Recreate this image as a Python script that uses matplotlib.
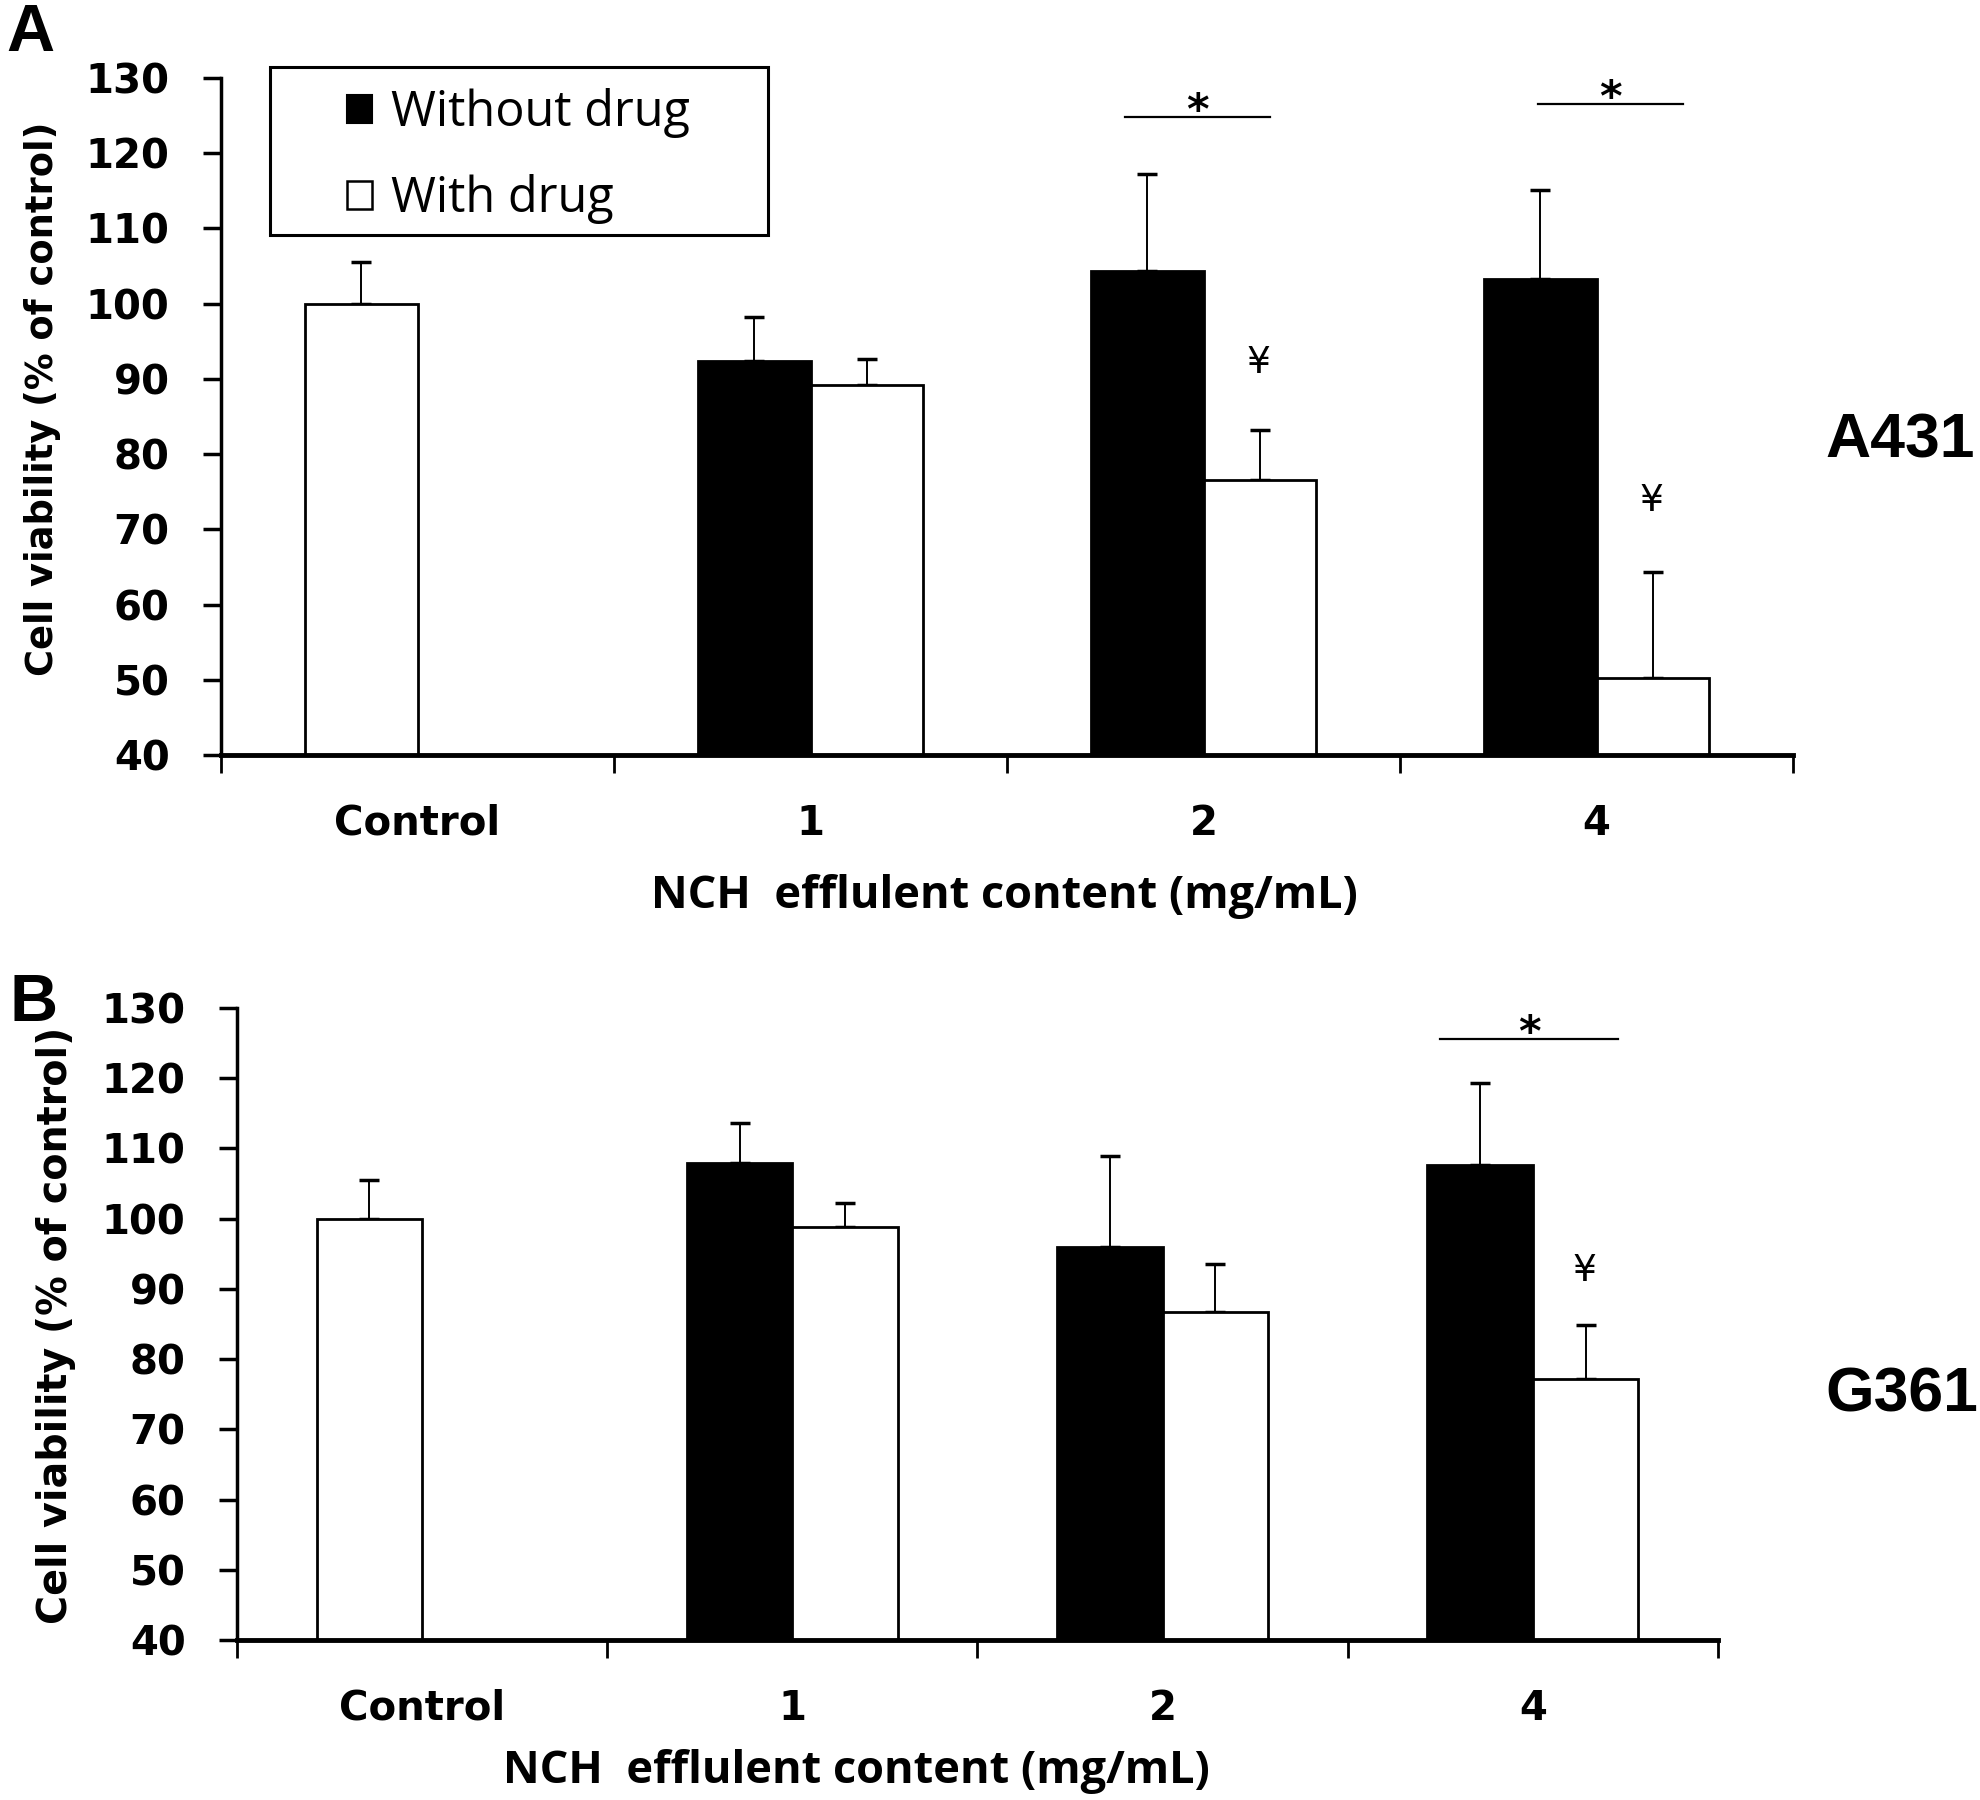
import matplotlib
matplotlib.use("Agg")
import matplotlib.pyplot as plt
import numpy as np
from matplotlib.patches import Patch, Rectangle

# Datos
categories = ["Control", "1", "2", "4"]

a431_control = 100.0
a431_control_err = 5.5
a431_without = [92.4, 104.4, 103.3]
a431_without_err = [5.8, 12.9, 11.8]
a431_with = [89.2, 76.5, 50.2]
a431_with_err = [3.5, 6.7, 14.1]

g361_control = 100.0
g361_control_err = 5.5
g361_without = [107.9, 96.0, 107.6]
g361_without_err = [5.7, 12.9, 11.7]
g361_with = [98.8, 86.7, 77.1]
g361_with_err = [3.4, 6.8, 7.7]

# Significancia: (x inicio, x fin, y línea)
a431_stars = [(1.80, 2.17, 124.8), (2.85, 3.22, 126.5)]
a431_yen = [(2.14, 92.1), (3.14, 73.8)]
g361_stars = [(2.75, 3.23, 125.6)]
g361_yen = [(3.14, 92.5)]

width = 0.285
W, H = 1980, 1800

fig = plt.figure(figsize=(19.8, 18), dpi=100)
ax1 = fig.add_axes([221 / W, 1 - 755 / H, (1793 - 221) / W, (755 - 78) / H])
ax2 = fig.add_axes([237 / W, 1 - 1640 / H, (1718 - 237) / W, (1640 - 1008) / H])


def draw_panel(ax, control, control_err, without, without_err, with_, with_err,
               stars, yens):
    x = np.arange(len(categories))
    xs = x[1:]
    bar_kw = dict(edgecolor="black", linewidth=2, zorder=3)
    err_kw = dict(fmt="none", ecolor="black", elinewidth=1.4, capsize=7,
                  capthick=2.5, zorder=2)

    ax.bar(x[0] - width / 2, control, width, color="white", **bar_kw)
    ax.bar(xs - width / 2, without, width, color="black", **bar_kw)
    ax.bar(xs + width / 2, with_, width, color="white", **bar_kw)

    ax.errorbar([x[0] - width / 2], [control], yerr=[[0], [control_err]], **err_kw)
    ax.errorbar(xs - width / 2, without, yerr=[np.zeros(3), without_err], **err_kw)
    ax.errorbar(xs + width / 2, with_, yerr=[np.zeros(3), with_err], **err_kw)

    for x0, x1, y in stars:
        ax.plot([x0, x1], [y, y], color="black", lw=1.6, clip_on=False)
        ax.annotate("*", xy=((x0 + x1) / 2, y), xytext=(0, -5),
                    textcoords="offset points", ha="center", va="baseline",
                    fontsize=31, fontweight="bold", annotation_clip=False)
    for xx, yy in yens:
        ax.text(xx, yy, "¥", ha="center", va="center", fontsize=27)

    ax.set_ylim(40, 130)
    ax.set_yticks(np.arange(40, 131, 10))
    ax.set_xlim(-0.5, 3.5)
    ax.set_xticks(x)
    ax.set_xticklabels(categories)
    ax.set_xticks(np.arange(-0.5, 3.6, 1), minor=True)

    ax.spines["top"].set_visible(False)
    ax.spines["right"].set_visible(False)
    ax.spines["left"].set_linewidth(2.5)
    ax.spines["bottom"].set_linewidth(3.5)
    ax.spines["bottom"].set_zorder(4)

    ax.tick_params(axis="y", direction="out", length=13, width=2.5, pad=24,
                   labelsize=29)
    ax.tick_params(axis="x", which="major", length=0, pad=35, labelsize=29)
    ax.tick_params(axis="x", which="minor", direction="out", length=13, width=2)
    for lab in ax.get_xticklabels() + ax.get_yticklabels():
        lab.set_fontweight("bold")


draw_panel(ax1, a431_control, a431_control_err, a431_without, a431_without_err,
           a431_with, a431_with_err, a431_stars, a431_yen)
draw_panel(ax2, g361_control, g361_control_err, g361_without, g361_without_err,
           g361_with, g361_with_err, g361_stars, g361_yen)

# Leyenda
handles = [Patch(facecolor="black", edgecolor="black", linewidth=1.5),
           Patch(facecolor="white", edgecolor="black", linewidth=1.8)]
ax1.legend(handles, ["Without drug", "With drug"], loc="upper left",
           bbox_to_anchor=(347 / W, 1 - 88 / H), bbox_transform=fig.transFigure,
           frameon=False, borderpad=0, borderaxespad=0,
           prop={"family": "Open Sans", "size": 35},
           handlelength=0.52, handleheight=0.52, handletextpad=0.38,
           labelspacing=0.74)
fig.add_artist(Rectangle((270 / W, 1 - 235 / H), 498 / W, 168 / H,
                         transform=fig.transFigure, fill=False, lw=2.2,
                         edgecolor="black"))

# Etiquetas de ejes
ylab = "Cell viability (% of control)"
fig.text(43 / W, 1 - 399 / H, ylab, rotation=90, ha="center", va="center",
         fontsize=26.5, fontweight="bold")
fig.text(56 / W, 1 - 1325 / H, ylab, rotation=90, ha="center", va="center",
         fontsize=28.5, fontweight="bold")

xlab = "NCH  efflulent content (mg/mL)"
xfont = dict(family=["Open Sans", "DejaVu Sans"], fontweight="bold",
             fontsize=32.5)
fig.text(1004 / W, 1 - 897 / H, xlab, ha="center", va="center", **xfont)
fig.text(856 / W, 1 - 1772 / H, xlab, ha="center", va="center", **xfont)

# Paneles y líneas celulares
fig.text(6 / W, 1 - 3 / H, "A", ha="left", va="top",
         family="Liberation Sans", fontweight="bold", fontsize=48)
fig.text(10 / W, 1 - 973 / H, "B", ha="left", va="top",
         family="Liberation Sans", fontweight="bold", fontsize=48)
fig.text(1825 / W, 1 - 441 / H, "A431", ha="left", va="center",
         family="Liberation Sans", fontweight="bold", fontsize=45)
fig.text(1825 / W, 1 - 1395 / H, "G361", ha="left", va="center",
         family="Liberation Sans", fontweight="bold", fontsize=45)

fig.savefig("out.png", dpi=100)
